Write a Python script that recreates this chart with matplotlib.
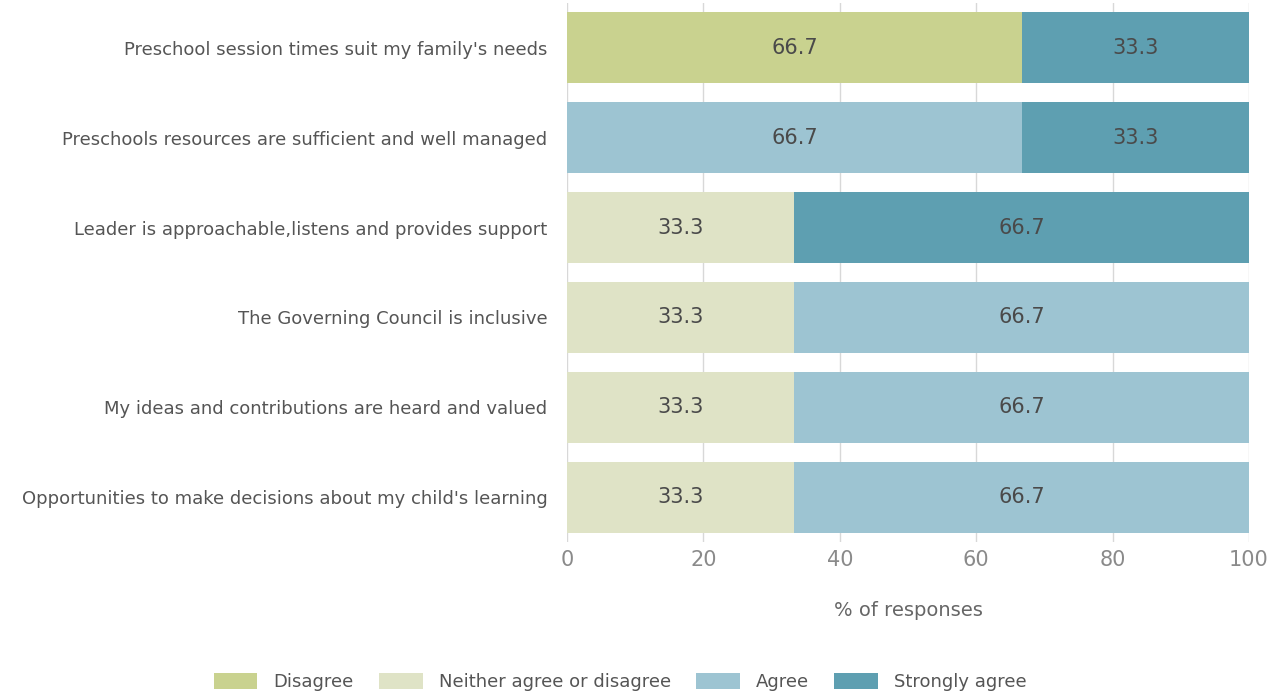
import numpy as np
import matplotlib
matplotlib.use("Agg")
import matplotlib.pyplot as plt

plt.rcParams['font.family'] = ['DejaVu Sans']

statements = [
    "Preschool session times suit my family's needs",
    "Preschools resources are sufficient and well managed",
    "Leader is approachable,listens and provides support",
    "The Governing Council is inclusive",
    "My ideas and contributions are heard and valued",
    "Opportunities to make decisions about my child's learning",
]
responses = ["Disagree", "Neither agree or disagree", "Agree", "Strongly agree"]
disagree = [66.7, 0, 0, 0, 0, 0]
neither = [0, 0, 33.3, 33.3, 33.3, 33.3]
agree = [0, 66.7, 0, 66.7, 66.7, 66.7]
strongly = [33.3, 33.3, 66.7, 0, 0, 0]
colors = ["#c9d28f", "#dfe3c6", "#9dc4d2", "#5e9fb1"]

fig = plt.figure(figsize=(12.71, 6.95), dpi=100)
ax = fig.add_axes([0.4461, 0.2201, 0.5366, 0.7756])

y = np.arange(len(statements))
left = np.zeros(len(statements))
series = [disagree, neither, agree, strongly]
for name, vals, col in zip(responses, series, colors):
    vals = np.array(vals)
    ax.barh(y, vals, left=left, height=0.79, color=col, label=name, zorder=2)
    for yi, (l, v) in enumerate(zip(left, vals)):
        if v > 0:
            ax.text(l + v / 2, yi, f"{v:.1f}", ha="center", va="center",
                    fontsize=15, color="#4a4a4a", zorder=3)
    left += vals

ax.set_xlim(0, 100)
ax.set_ylim(len(statements) - 0.5, -0.5)
ax.set_xticks([0, 20, 40, 60, 80, 100])
ax.set_yticks(y)
ax.set_yticklabels(statements, fontsize=13, color="#555555")
ax.tick_params(axis="x", labelsize=15, labelcolor="#8a8a8a", length=0, pad=6)
ax.tick_params(axis="y", length=0, pad=14)
ax.xaxis.grid(True, color="#d8d8d8", linewidth=1, zorder=0)
ax.set_axisbelow(True)
for s in ax.spines.values():
    s.set_visible(False)
ax.set_xlabel("% of responses", fontsize=14, color="#666666", labelpad=22)

fig.legend(loc="lower center", bbox_to_anchor=(0.488, -0.018), ncol=4, frameon=False,
           fontsize=13, handlelength=2.4, handleheight=1.0, handletextpad=0.9,
           columnspacing=1.4, labelcolor="#555555")

fig.savefig("out.png", dpi=100, facecolor="white")
